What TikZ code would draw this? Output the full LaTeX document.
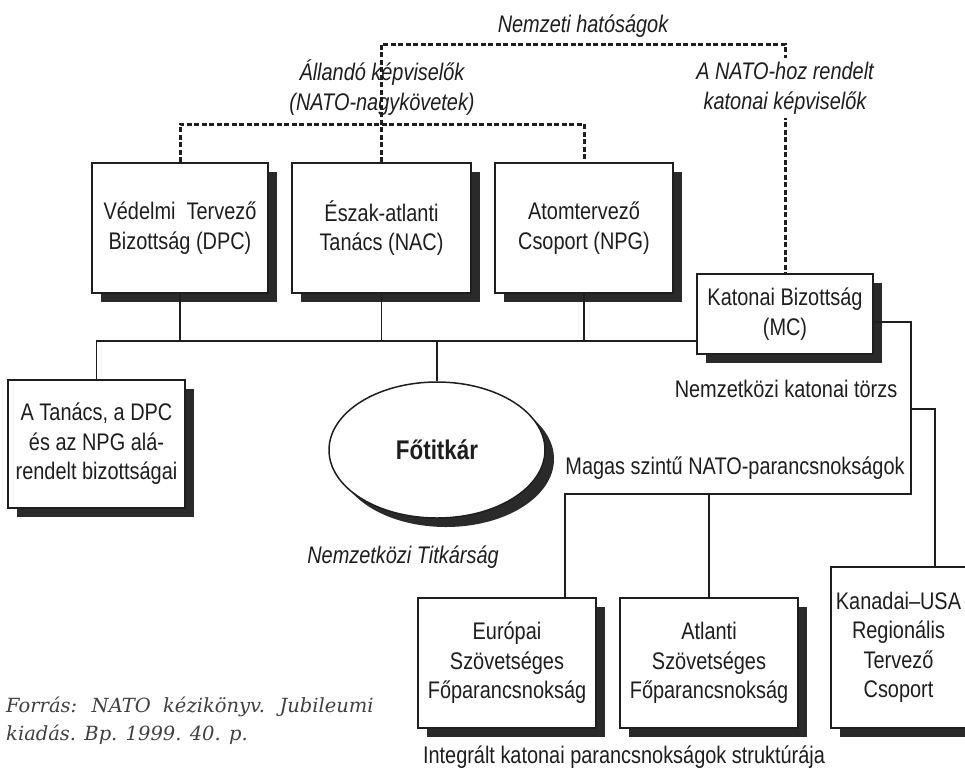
\documentclass[tikz,border=0pt]{standalone}
\usepackage{fontspec}
\setmainfont{Liberation Sans}[FakeStretch=0.83]
\newfontfamily\srcfont{DejaVu Serif}
\usetikzlibrary{shapes.geometric,shadows}
\definecolor{ink}{HTML}{1E1E1E}
\definecolor{shade}{HTML}{2A2A2A}
\begin{document}
\begin{tikzpicture}[x=1pt,y=-1pt,
  txt/.style={font=\fontsize{24}{29.5}\selectfont, align=center, inner sep=0pt, text=ink},
  box/.style={txt, draw=ink, line width=1.5pt, fill=white,
    general shadow={shadow xshift=8.5pt, shadow yshift=-8.5pt, fill=shade}},
  lab/.style={txt, font=\fontsize{24}{30}\selectfont\itshape},
  dl/.style={draw=ink, line width=3pt, dash pattern=on 5pt off 2.5pt},
  cl/.style={draw=ink, line width=1.8pt}]
\useasboundingbox (0,0) rectangle (965,772);
\fill[white] (0,0) rectangle (965,772);

% coordinates of the connector routes
\coordinate (t1) at (382,44);
\coordinate (t3) at (0,124);
\coordinate (bus) at (0,341);
\coordinate (r1) at (911,322);
\coordinate (b1) at (911,494);
\coordinate (k1) at (911,409);
\coordinate (eurIn) at (565,598);
\coordinate (kanIn) at (935,567);

% labels
\node[lab] (nh) at (583,26) {Nemzeti hatóságok};

% boxes
\node[box, minimum width=176pt, minimum height=130pt] (DPC) at (180,228) {Védelmi\ \ Tervező\\Bizottság (DPC)};
\node[box, minimum width=179pt, minimum height=130pt] (NAC) at (381.5,228) {Észak-atlanti\\Tanács (NAC)};
\node[box, minimum width=178pt, minimum height=130pt] (NPG) at (584,228) {Atomtervező\\Csoport (NPG)};
\node[box, minimum width=176pt, minimum height=80pt] (MC) at (785,314) {Katonai Bizottság\\(MC)};
\node[box, minimum width=177pt, minimum height=128pt] (TAN) at (96.5,444) {A Tanács, a DPC\\és az NPG alá-\\rendelt bizottságai};
\node[ellipse, draw=ink, line width=1.5pt, fill=white, inner sep=0pt,
  minimum width=216pt, minimum height=136pt,
  general shadow={shadow xshift=9pt, shadow yshift=-9pt, fill=shade},
  font=\fontsize{27}{30}\selectfont\bfseries, text=ink] (FT) at (437,450) {Főtitkár};
\node[box, minimum width=178pt, minimum height=130pt] (EUR) at (507,663) {Európai\\Szövetséges\\Főparancsnokság};
\node[box, minimum width=178pt, minimum height=130pt] (ATL) at (709,663) {Atlanti\\Szövetséges\\Főparancsnokság};
\node[box, minimum width=135pt, minimum height=161pt] (KAN) at (898.5,647.5) {Kanadai--USA\\Regionális\\Tervező\\Csoport};

% dashed connectors
\draw[dl] (NAC.north) -- (NAC.north |- t1) -| (MC.north);
\draw[dl] (DPC.north) |- (NAC.north |- t3) -| (NPG.north);

\node[lab] (ak) at (382,88) {Állandó képviselők\\(NATO-nagykövetek)};
\node[lab, fill=white, inner ysep=4pt] (nk) at (785,88) {A NATO-hoz rendelt\\katonai képviselők};

% solid connectors
\draw[cl] (DPC.south) -- (DPC.south |- bus);
\draw[cl] (NAC.south) -- (NAC.south |- bus);
\draw[cl] (NPG.south) -- (NPG.south |- bus);
\draw[cl] (TAN.north) |- (MC.west |- bus);
\draw[cl] (FT.north) -- (FT.north |- bus);
\draw[cl] (MC.east |- r1) -| (b1) -| (eurIn);
\draw[cl] (ATL.north) -- (ATL.north |- b1);
\draw[cl] (k1) -| (kanIn);

% other labels
\node[txt] (mkt) at (786,389) {Nemzetközi katonai törzs};
\node[txt] (msz) at (735,468) {Magas szintű NATO-parancsnokságok};
\node[lab] (nt) at (403,557) {Nemzetközi Titkárság};
\node[txt] (ik) at (624,757) {Integrált katonai parancsnokságok struktúrája};
\node[txt, anchor=west, align=left, font=\fontsize{19.5}{28}\srcfont\itshape, text=black!75] (src) at (6,721) {Forrás: \ NATO \ kézikönyv. \ Jubileumi\\kiadás. Bp. 1999. 40. p.};
\end{tikzpicture}
\end{document}
